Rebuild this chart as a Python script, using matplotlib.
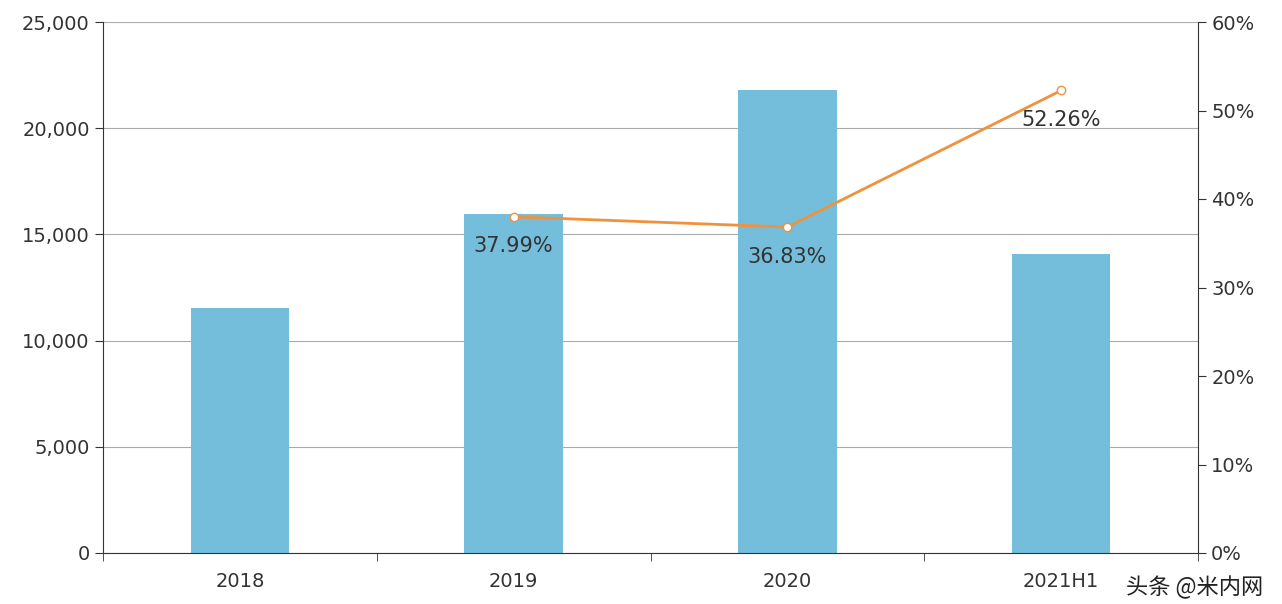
import numpy as np
import matplotlib
matplotlib.use("Agg")
import matplotlib.pyplot as plt
from matplotlib.ticker import FuncFormatter

plt.rcParams['font.family'] = ['DejaVu Sans', 'Noto Sans CJK SC']

categories = ["2018", "2019", "2020", "2021H1"]
sales = [11550, 15950, 21800, 14100]
growth_cats = ["2019", "2020", "2021H1"]
growth = [37.99, 36.83, 52.26]

fig = plt.figure(figsize=(12.82, 6.04), dpi=100)
ax = fig.add_axes([103 / 1282, 1 - 553 / 604, (1198 - 103) / 1282, (553 - 22) / 604])
x = np.arange(len(categories))
ax.bar(x, sales, width=0.36, color="#74BEDC", zorder=2)
ax.set_xlim(-0.5, len(categories) - 0.5)
ax.set_ylim(0, 25000)
ax.set_yticks(np.arange(0, 25001, 5000))
ax.yaxis.set_major_formatter(FuncFormatter(lambda v, p: f"{v:,.0f}"))
ax.set_xticks(x)
ax.set_xticklabels(categories)
ax.set_xticks(np.arange(-0.5, len(categories)), minor=True)
ax.tick_params(axis="x", which="major", length=0, labelsize=14, colors="#333333", pad=14)
ax.tick_params(axis="x", which="minor", length=6, color="#333333")
ax.tick_params(axis="y", labelsize=14, colors="#333333", length=6)
ax.grid(axis="y", color="#aaaaaa", linewidth=0.8, zorder=0)
for s in ["top", "right"]:
    ax.spines[s].set_visible(False)
for s in ["left", "bottom"]:
    ax.spines[s].set_color("#333333")

ax2 = ax.twinx()
ax2.set_ylim(0, 60)
ax2.set_yticks(np.arange(0, 61, 10))
ax2.yaxis.set_major_formatter(FuncFormatter(lambda v, p: f"{v:.0f}%"))
ax2.tick_params(axis="y", labelsize=14, colors="#333333", length=6)
ax2.spines["top"].set_visible(False)
ax2.spines["left"].set_visible(False)
ax2.spines["bottom"].set_visible(False)
ax2.spines["right"].set_color("#333333")
gx = [categories.index(c) for c in growth_cats]
ax2.plot(gx, growth, color="#F0923C", linewidth=2, marker="o", markersize=6,
         markerfacecolor="white", markeredgecolor="#F0923C", zorder=3)
for xi, g in zip(gx, growth):
    ax2.text(xi, g - 2.2, f"{g:.2f}%", ha="center", va="top", fontsize=15, color="#333333")

fig.text(0.985, 0.008, "头条 @米内网", ha="right", va="bottom", fontsize=16, color="#222222",
         family=["Noto Sans CJK SC", "DejaVu Sans"])

fig.savefig("out.png", dpi=100, facecolor="white")
